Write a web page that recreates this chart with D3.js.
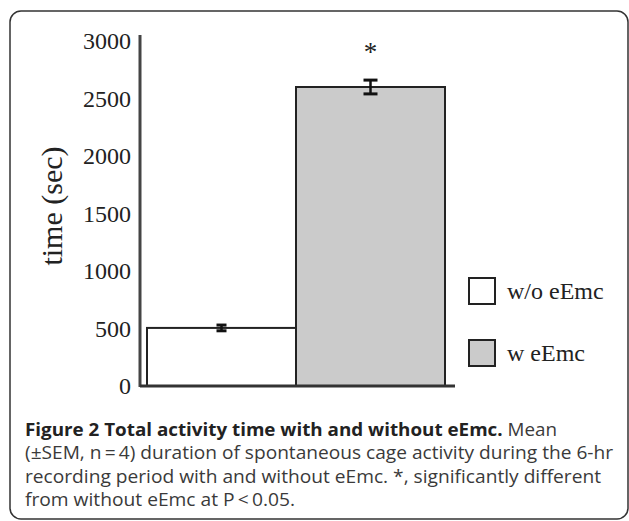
<!DOCTYPE html>
<html>
<head>
<meta charset="utf-8">
<script src="https://cdn.jsdelivr.net/npm/d3@7/dist/d3.min.js"></script>
<style>
  body { margin: 0; background: #fff; }
</style>
</head>
<body>
<div id="grafico"></div>
<script>
// Datos
const categorias = ['w/o eEmc', 'w eEmc'];
const medias = [505, 2600];
const errores = [25, 60];
const marcas = ['', '*'];
const ticksY = [0, 500, 1000, 1500, 2000, 2500, 3000];
const tituloY = 'time (sec)';
const leyenda = ['w/o eEmc', 'w eEmc'];
const pieNegrita = 'Figure 2 Total activity time with and without eEmc.';
const pieLineas = [
  ' Mean',
  '(\u00B1SEM, n\u2009=\u20094) duration of spontaneous cage activity during the 6-hr',
  'recording period with and without eEmc. *, significantly different',
  'from without eEmc at P\u2009<\u20090.05.'
];

const ancho = 629;
const alto = 521;
const serif = '"Liberation Serif", "Times New Roman", serif';
const sans = '"Open Sans", "Noto Sans", sans-serif';

const svg = d3.select('#grafico').append('svg')
  .attr('width', ancho)
  .attr('height', alto);

// Marco redondeado de la figura
svg.append('rect')
  .attr('x', 10)
  .attr('y', 11)
  .attr('width', 618)
  .attr('height', 508)
  .attr('rx', 11)
  .attr('fill', 'none')
  .attr('stroke', '#333')
  .attr('stroke-width', 1.5);

// Escalas
const y = d3.scaleLinear().domain([0, 3000]).range([386, 41]);
const x = d3.scaleBand().domain(categorias).range([147, 445]).padding(0);
const color = d3.scaleOrdinal().domain(categorias).range(['#ffffff', '#cbcbcb']);

// Eje Y
const ejeY = svg.append('g')
  .attr('transform', 'translate(140,0)')
  .call(d3.axisLeft(y).tickValues(ticksY).tickSize(0).tickPadding(9).tickFormat(d3.format('d')));
ejeY.select('.domain').remove();
ejeY.selectAll('text')
  .style('font-family', serif)
  .style('font-size', '24px')
  .attr('fill', '#222');

svg.append('line')
  .attr('x1', 140).attr('x2', 140)
  .attr('y1', y(3000) - 6).attr('y2', y(0) + 1)
  .attr('stroke', '#444')
  .attr('stroke-width', 3);

// Titulo del eje
svg.append('text')
  .attr('transform', 'translate(62,206) rotate(-90)')
  .attr('text-anchor', 'middle')
  .style('font-family', serif)
  .style('font-size', '30px')
  .attr('fill', '#222')
  .text(tituloY);

// Barras
svg.selectAll('rect.barra')
  .data(categorias)
  .enter()
  .append('rect')
  .attr('class', 'barra')
  .attr('x', d => x(d))
  .attr('y', (d, i) => y(medias[i]))
  .attr('width', x.bandwidth())
  .attr('height', (d, i) => y(0) - y(medias[i]))
  .attr('fill', d => color(d))
  .attr('stroke', '#222')
  .attr('stroke-width', 2);

// Linea base
svg.append('line')
  .attr('x1', 140).attr('x2', 455)
  .attr('y1', y(0)).attr('y2', y(0))
  .attr('stroke', '#333')
  .attr('stroke-width', 3);

// Barras de error
const errs = svg.selectAll('g.error')
  .data(categorias)
  .enter()
  .append('g')
  .attr('class', 'error')
  .attr('transform', d => `translate(${x(d) + x.bandwidth() / 2},0)`);

errs.append('line')
  .attr('y1', (d, i) => y(medias[i] + errores[i]))
  .attr('y2', (d, i) => y(medias[i] - errores[i]))
  .attr('stroke', '#111')
  .attr('stroke-width', 2.5);

[1, -1].forEach(signo => {
  errs.append('line')
    .attr('x1', (d, i) => i === 0 ? -5 : -7)
    .attr('x2', (d, i) => i === 0 ? 5 : 7)
    .attr('y1', (d, i) => y(medias[i] + signo * errores[i]))
    .attr('y2', (d, i) => y(medias[i] + signo * errores[i]))
    .attr('stroke', '#111')
    .attr('stroke-width', 3);
});

// Asterisco de significancia
errs.append('text')
  .attr('y', (d, i) => y(medias[i] + errores[i]) - 19)
  .attr('text-anchor', 'middle')
  .style('font-family', serif)
  .style('font-size', '27px')
  .attr('fill', '#222')
  .text((d, i) => marcas[i]);

// Leyenda
const items = svg.selectAll('g.leyenda')
  .data(leyenda)
  .enter()
  .append('g')
  .attr('class', 'leyenda')
  .attr('transform', (d, i) => `translate(469,${278 + i * 62})`);

items.append('rect')
  .attr('width', 26)
  .attr('height', 26)
  .attr('fill', d => color(d))
  .attr('stroke', '#222')
  .attr('stroke-width', 2);

items.append('text')
  .attr('x', 38)
  .attr('y', 13)
  .attr('dy', '0.35em')
  .style('font-family', serif)
  .style('font-size', '24px')
  .attr('fill', '#222')
  .text(d => d);

// Pie de figura
const anchosPie = [532, 588, 576, 270];
const basesPie = [436, 459, 483, 506];

pieLineas.forEach((linea, i) => {
  const t = svg.append('text')
    .attr('x', 25)
    .attr('y', basesPie[i])
    .style('font-family', sans)
    .style('font-size', '17.5px')
    .attr('fill', '#3a3a3a')
    .attr('textLength', anchosPie[i])
    .attr('lengthAdjust', 'spacingAndGlyphs');
  if (i === 0) {
    t.append('tspan')
      .style('font-weight', 'bold')
      .attr('fill', '#222')
      .text(pieNegrita);
  }
  t.append('tspan').text(linea);
});
</script>
</body>
</html>
